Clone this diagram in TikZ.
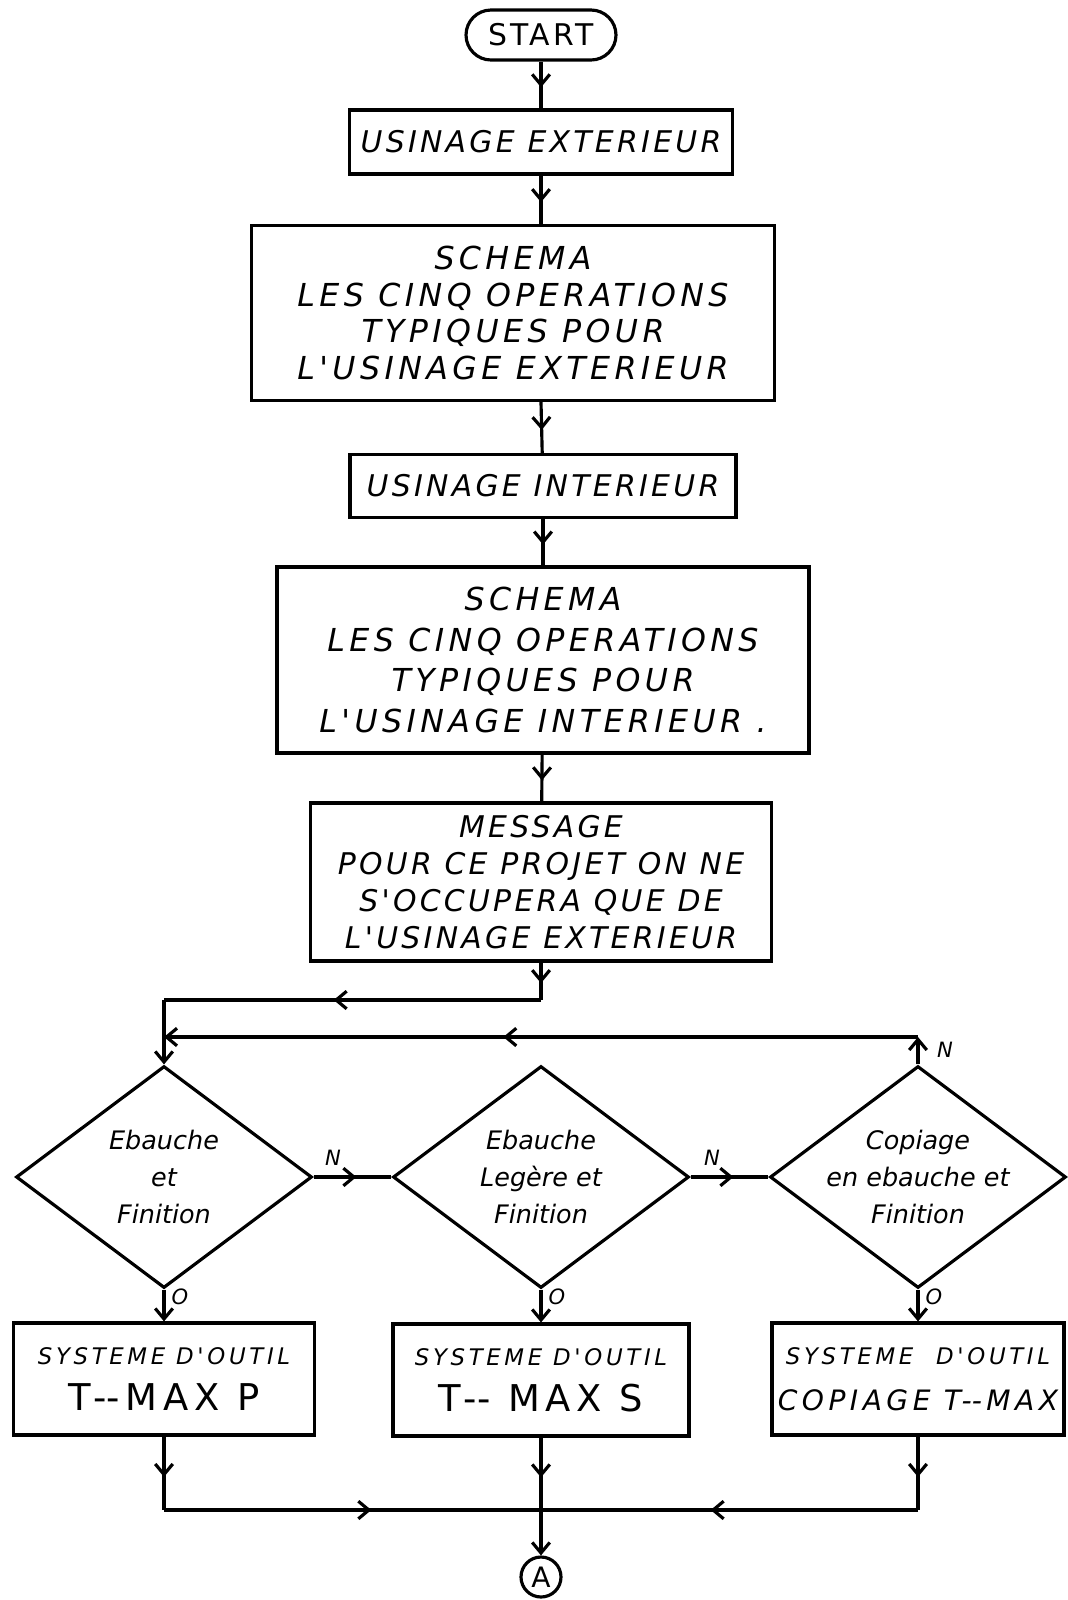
\documentclass[tikz,border=0pt]{standalone}
\usepackage{fontspec}
\setmainfont{DejaVu Sans}
\newfontfamily\hand[LetterSpace=11]{DejaVu Sans}
\newfontfamily\handw[LetterSpace=14]{DejaVu Sans}
\newfontfamily\handt[LetterSpace=16]{DejaVu Sans}
\usetikzlibrary{shapes.geometric,arrows.meta,decorations.markings}

\begin{document}
\begin{tikzpicture}[x=0.02cm,y=-0.02cm,line width=1.8pt,
  >={Straight Barb[length=6pt,width=10pt]},
  box/.style={draw,rectangle,align=center,inner sep=2pt,font=\hand\itshape\fontsize{17}{21}\selectfont},
  test/.style={draw,diamond,aspect=1.33,inner sep=-15pt,align=center,minimum width=5.92cm,minimum height=4.44cm,font=\itshape\fontsize{14.5}{21}\selectfont},
  tool/.style={draw,rectangle,align=center,minimum height=2.24cm,font=\handt\itshape\fontsize{13}{26}\selectfont},
  lab/.style={inner sep=1pt,font=\itshape\fontsize{12}{14}\selectfont},
  midarr/.style={postaction={decorate},decoration={markings,mark=at position 0.55 with {\arrow{>}}}}]
\useasboundingbox (0,0) rectangle (1068,1600);

\node (start) at (541,35) [draw,rounded corners=0.5cm,minimum width=3cm,minimum height=1cm,font=\hand\fontsize{17}{20}\selectfont]{START};
\node (usext) at (541,142) [box,minimum width=7.66cm,minimum height=1.28cm]{USINAGE EXTERIEUR};
\node (schema1) at (513,313) [box,minimum width=10.46cm,minimum height=3.5cm,font=\handw\itshape\fontsize{18}{21}\selectfont]{SCHEMA\\LES CINQ OPERATIONS\\TYPIQUES POUR\\L'USINAGE EXTERIEUR};
\node (usint) at (543,486) [box,minimum width=7.72cm,minimum height=1.26cm]{USINAGE INTERIEUR};
\node (schema2) at (543,660) [box,minimum width=10.64cm,minimum height=3.72cm,font=\handw\itshape\fontsize{18}{23}\selectfont]{SCHEMA\\LES CINQ OPERATIONS\\TYPIQUES POUR\\L'USINAGE INTERIEUR .};
\node (msg) at (541,882) [box,minimum width=9.22cm,minimum height=3.16cm]{MESSAGE\\POUR CE PROJET ON NE\\S'OCCUPERA QUE DE\\L'USINAGE EXTERIEUR};

\node (d1) at (164,1177) [test]{Ebauche\\et\\Finition};
\node (d2) at (541,1177) [test]{Ebauche\\Legère et\\Finition};
\node (d3) at (918,1177) [test]{Copiage\\en ebauche et\\Finition};

\node (b1) at (164,1379) [tool,minimum width=6.02cm]{SYSTEME D'OUTIL\\{\upshape\fontsize{21}{24}\selectfont T-\kern0pt-MAX P}};
\node (b2) at (541,1380) [tool,minimum width=5.92cm]{SYSTEME D'OUTIL\\{\upshape\fontsize{21}{24}\selectfont T-\kern0pt- MAX S}};
\node (b3) at (918,1379) [tool,minimum width=5.8cm]{SYSTEME\quad D'OUTIL\\{\fontsize{16}{24}\selectfont COPIAGE T-\kern0pt-MAX}};

\node (ca) at (541,1577) [draw,circle,minimum size=0.8cm,inner sep=0pt,font=\fontsize{16}{18}\selectfont]{A};

\node (n1) at (333,1158) [lab]{N};
\node (n2) at (712,1158) [lab]{N};
\node (n3) at (945,1050) [lab]{N};
\node (o1) at (180,1297) [lab]{O};
\node (o2) at (557,1297) [lab]{O};
\node (o3) at (934,1297) [lab]{O};

\coordinate (j1) at (541,1000);
\coordinate (j2) at (164,1000);
\coordinate (l1) at (918,1037);
\coordinate (l2) at (164,1037);
\coordinate (k) at (541,1510);

\draw[midarr] (start) -- (usext);
\draw[midarr] (usext) -- (usext |- schema1.north);
\draw[midarr] (usext |- schema1.south) -- (usint);
\draw[midarr] (usint) -- (schema2);
\draw[midarr] (schema2) -- (msg);

\draw[midarr] (msg) -- (j1);
\draw[midarr] (j1) -- (j2);
\draw[->] (j2) -- (d1);
\draw[->] (d3) -- (l1);
\draw[midarr,->] (l1) -- (l2);

\draw[midarr] (d1) -- (d2);
\draw[midarr] (d2) -- (d3);

\draw[->] (d1) -- (b1);
\draw[->] (d2) -- (b2);
\draw[->] (d3) -- (b3);

\draw[midarr] (b1) -- (b1 |- k);
\draw[midarr] (b1 |- k) -- (k);
\draw[midarr] (b3) -- (b3 |- k);
\draw[midarr] (b3 |- k) -- (k);
\draw[midarr] (b2) -- (k);
\draw[->] (k) -- (ca);

\end{tikzpicture}
\end{document}
